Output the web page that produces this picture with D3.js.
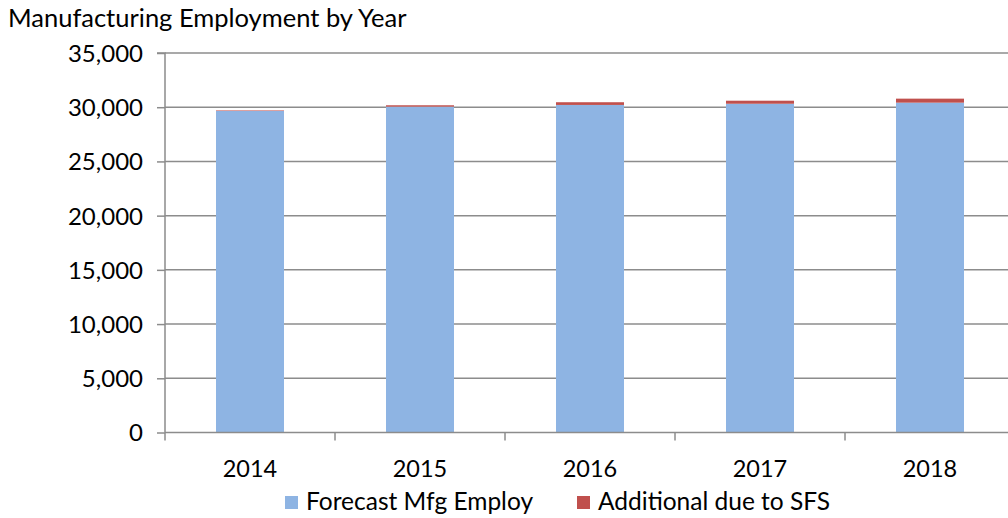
<!DOCTYPE html>
<html><head><meta charset="utf-8">
<script src="https://cdn.jsdelivr.net/npm/d3@7"></script>
<style>body{margin:0;background:#fff}svg{display:block}text{font-family:Lato,"Open Sans",sans-serif;fill:#000}</style>
</head><body><svg id="c" width="1008" height="518"></svg>
<script>
const years = ["2014","2015","2016","2017","2018"];
const forecast = [29650, 30050, 30210, 30320, 30420];
const additional = [50, 130, 250, 280, 370];
const yTicks = [0,5000,10000,15000,20000,25000,30000,35000];
const seriesNames = ["Forecast Mfg Employ","Additional due to SFS"];
const colors = ["#8eb4e3","#c0504d"];

(function(){
const svg = d3.select("#c");
const pLeft = 165, pRight = 1015, pTop = 53, pBottom = 432.5;
const x = d3.scaleBand().domain(years).range([pLeft,pRight]).paddingInner(0.6).paddingOuter(0.3);
const xb = d3.scaleBand().domain(years).range([pLeft,pRight]);
const y = d3.scaleLinear().domain([0,35000]).range([pBottom,pTop]);

// gridlines
svg.append("g").selectAll("line").data(yTicks.filter(d=>d>0)).join("line")
  .attr("x1",pLeft).attr("x2",1008).attr("y1",d=>y(d)).attr("y2",d=>y(d))
  .attr("stroke","#8c8c8c").attr("stroke-width",1.5);

// bars
const data = years.map((yr,i)=>({yr, f:forecast[i], a:additional[i]}));
svg.append("g").selectAll("rect").data(data).join("rect")
  .attr("x",d=>x(d.yr)).attr("width",x.bandwidth())
  .attr("y",d=>y(d.f)).attr("height",d=>y(0)-y(d.f)).attr("fill",colors[0]);
svg.append("g").selectAll("rect").data(data).join("rect")
  .attr("x",d=>x(d.yr)).attr("width",x.bandwidth())
  .attr("y",d=>y(d.f+d.a)).attr("height",d=>y(d.f)-y(d.f+d.a)).attr("fill",colors[1]);

// y axis
const ya = d3.axisLeft(y).tickValues(yTicks).tickSize(8).tickPadding(14).tickFormat(d3.format(","));
const gy = svg.append("g").attr("transform",`translate(${pLeft},0)`).call(ya);
gy.select(".domain").attr("stroke","#8c8c8c").attr("stroke-width",1.5).attr("d",`M-8,${pTop}H0V${pBottom}`);
gy.selectAll(".tick line").attr("stroke","#8c8c8c").attr("stroke-width",1.5);
gy.selectAll("text").attr("font-size","24px").attr("dy","0.35em");

// x axis
const gx = svg.append("g").attr("transform",`translate(0,${pBottom})`);
gx.append("line").attr("x1",pLeft).attr("x2",1008).attr("stroke","#8c8c8c").attr("stroke-width",1.5);
gx.selectAll(".tk").data(years.map(d=>xb(d)).concat([pRight])).join("line").attr("class","tk")
  .attr("x1",d=>d).attr("x2",d=>d).attr("y1",0).attr("y2",8).attr("stroke","#8c8c8c").attr("stroke-width",1.5);
gx.selectAll(".lb").data(years).join("text").attr("class","lb")
  .attr("x",d=>xb(d)+xb.bandwidth()/2).attr("y",44).attr("text-anchor","middle").attr("font-size","23.5px").text(d=>d);

// title
svg.append("text").attr("x",8).attr("y",27).attr("font-size","25.5px").text("Manufacturing Employment by Year");

// legend
const lg = [{x:285,tx:306},{x:577,tx:598}];
seriesNames.forEach((n,i)=>{
  svg.append("rect").attr("x",lg[i].x).attr("y",496).attr("width",13).attr("height",13).attr("fill",colors[i]);
  svg.append("text").attr("x",lg[i].tx).attr("y",510).attr("font-size","24.5px").text(n);
});
})();
</script></body></html>
